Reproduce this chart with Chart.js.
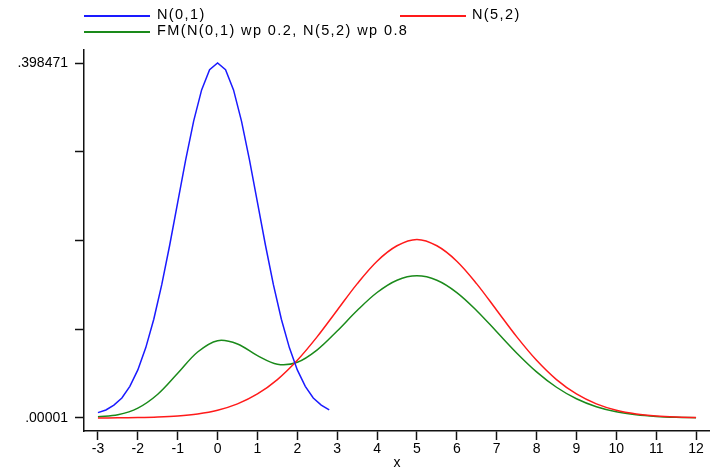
<!DOCTYPE html>
<html>
<head>
<meta charset="utf-8">
<script src="https://cdn.jsdelivr.net/npm/chart.js@4/dist/chart.umd.min.js"></script>
<style>
  html, body { margin: 0; padding: 0; background: #fff; }
  #wrap { position: relative; width: 710px; height: 472px; font-family: "Liberation Sans", Arial, sans-serif; }
  canvas { position: absolute; left: 0; top: 0; }
  .leg { position: absolute; height: 18px; line-height: 18px; font-size: 14.5px; letter-spacing: 1.4px; color: #000; white-space: nowrap; }
  .sw { position: absolute; height: 2px; }
</style>
</head>
<body>
<div id="wrap">
  <canvas id="c" width="710" height="472"></canvas>
  <div id="legend"></div>
</div>
<script>
// ---- data ----
const seriesNames = ["N(0,1)", "N(5,2)", "FM(N(0,1) wp 0.2, N(5,2) wp 0.8"];
const seriesColors = ["#1a1aff", "#ff1a1a", "#1a8a1a"];

const xBlue = [-3, -2.8, -2.6, -2.4, -2.2, -2, -1.8, -1.6, -1.4, -1.2, -1, -0.8, -0.6, -0.4, -0.2,
               0, 0.2, 0.4, 0.6, 0.8, 1, 1.2, 1.4, 1.6, 1.8, 2, 2.2, 2.4, 2.6, 2.8];
const yBlue = [0.0060, 0.0090, 0.0145, 0.0224, 0.0355, 0.0540, 0.0790, 0.1109, 0.1497, 0.1942, 0.2420,
               0.2897, 0.3332, 0.3683, 0.3910, 0.398471, 0.3910, 0.3683, 0.3332, 0.2897, 0.2420, 0.1942,
               0.1497, 0.1109, 0.0790, 0.0540, 0.0355, 0.0224, 0.0145, 0.0090];

const xMix = [-3, -2.5, -2, -1.5, -1, -0.5, 0, 0.5, 1, 1.5, 2, 2.5, 3, 3.5, 4, 4.5, 5,
              5.5, 6, 6.5, 7, 7.5, 8, 8.5, 9, 9.5, 10, 10.5, 11, 11.5, 12];
const yRed = [0.00007, 0.00018, 0.00044, 0.00102, 0.00222, 0.00455, 0.00876, 0.01587, 0.02700, 0.04314,
              0.06476, 0.09132, 0.12099, 0.15057, 0.17603, 0.19333, 0.20050, 0.19333, 0.17603, 0.15057,
              0.12099, 0.09132, 0.06476, 0.04314, 0.02700, 0.01587, 0.00876, 0.00455, 0.00222, 0.00102, 0.00044];
const yGreen = [0.00140, 0.00365, 0.01115, 0.02672, 0.05017, 0.07405, 0.08680, 0.08311, 0.06999, 0.06042,
                0.06261, 0.07656, 0.09768, 0.12063, 0.14085, 0.15467, 0.15958, 0.15466, 0.14082, 0.12046,
                0.09679, 0.07306, 0.05181, 0.03451, 0.02160, 0.01270, 0.00701, 0.00364, 0.00178, 0.00082, 0.00035];

const xTicks = [-3, -2, -1, 0, 1, 2, 3, 4, 5, 6, 7, 8, 9, 10, 11, 12];
const yTicks = [0.00001, 0.0996255, 0.19924, 0.2988555, 0.398471];
const yTickLabels = [".00001", "", "", "", ".398471"];
const xTitle = "x";

// ---- build ----
const pts = (xs, ys) => xs.map((x, i) => ({ x: x, y: ys[i] }));
const FONT = { family: "'Liberation Sans', Arial, sans-serif", size: 14 };

new Chart(document.getElementById('c'), {
  type: 'scatter',
  data: {
    datasets: [
      { label: seriesNames[0], data: pts(xBlue, yBlue), borderColor: seriesColors[0], tension: 0 },
      { label: seriesNames[1], data: pts(xMix, yRed), borderColor: seriesColors[1], tension: 0.35 },
      { label: seriesNames[2], data: pts(xMix, yGreen), borderColor: seriesColors[2], tension: 0.35 }
    ].map(d => Object.assign(d, { showLine: true, pointRadius: 0, borderWidth: 1.5, fill: false }))
  },
  options: {
    responsive: false,
    animation: false,
    layout: { padding: { top: 50, right: 0, left: 0, bottom: 0 } },
    plugins: { legend: { display: false }, tooltip: { enabled: false } },
    scales: {
      x: {
        type: 'linear', min: -3.35, max: 12.35,
        afterBuildTicks: s => { s.ticks = xTicks.map(v => ({ value: v })); },
        afterFit: s => { s.height = 41; },
        grid: { drawOnChartArea: false, drawTicks: true, tickLength: 9, tickColor: '#111', tickWidth: 1.5 },
        border: { display: true, color: '#111', width: 1.5 },
        ticks: { color: '#000', font: FONT, padding: 1, maxRotation: 0, autoSkip: false,
                 callback: v => String(v) },
        title: { display: true, text: xTitle, color: '#000', font: FONT, padding: { top: 0, bottom: 0 } }
      },
      y: {
        type: 'linear', min: -0.0146, max: 0.4131,
        afterBuildTicks: s => { s.ticks = yTicks.map(v => ({ value: v })); },
        afterFit: s => { s.width = 84; },
        grid: { drawOnChartArea: false, drawTicks: true, tickLength: 9, tickColor: '#111', tickWidth: 1.5 },
        border: { display: true, color: '#111', width: 1.5 },
        ticks: { color: '#000', font: FONT, padding: 7, autoSkip: false,
                 callback: (v, i) => yTickLabels[i] }
      }
    }
  }
});

// ---- legend (HTML text) ----
const legendPos = [
  { lx: 84, tx: 157, y: 15 },
  { lx: 400, tx: 472, y: 15 },
  { lx: 84, tx: 157, y: 31 }
];
const leg = document.getElementById('legend');
seriesNames.forEach((name, i) => {
  const p = legendPos[i];
  const sw = document.createElement('div');
  sw.className = 'sw';
  sw.style.left = p.lx + 'px';
  sw.style.top = p.y + 'px';
  sw.style.width = '66px';
  sw.style.backgroundColor = seriesColors[i];
  leg.appendChild(sw);
  const t = document.createElement('div');
  t.className = 'leg';
  t.style.left = p.tx + 'px';
  t.style.top = (p.y - 10) + 'px';
  t.textContent = name;
  leg.appendChild(t);
});
</script>
</body>
</html>
